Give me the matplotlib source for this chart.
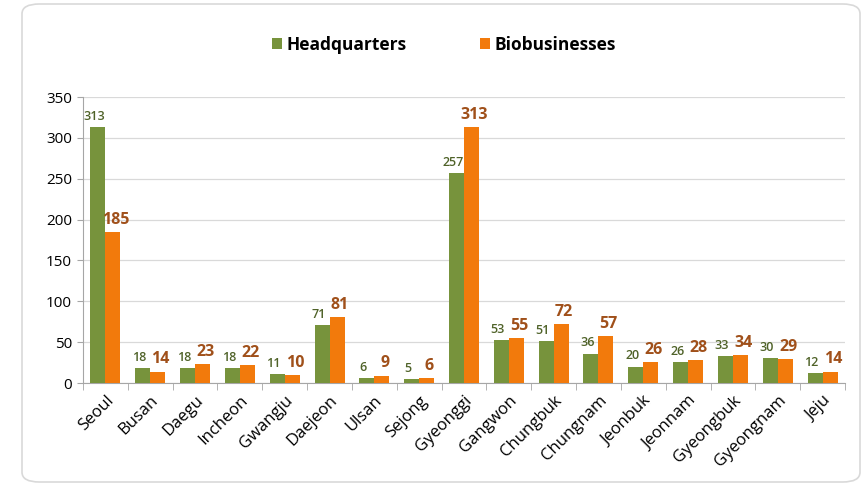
import matplotlib.pyplot as plt
import numpy as np
from matplotlib.patches import FancyBboxPatch

regions = ["Seoul", "Busan", "Daegu", "Incheon", "Gwangju", "Daejeon", "Ulsan",
           "Sejong", "Gyeonggi", "Gangwon", "Chungbuk", "Chungnam", "Jeonbuk",
           "Jeonnam", "Gyeongbuk", "Gyeongnam", "Jeju"]
headquarters = [313, 18, 18, 18, 11, 71, 6, 5, 257, 53, 51, 36, 20, 26, 33, 30, 12]
biobusinesses = [185, 14, 23, 22, 10, 81, 9, 6, 313, 55, 72, 57, 26, 28, 34, 29, 14]

green = "#77933C"
orange = "#F27A0C"
green_txt = "#4F6228"
orange_txt = "#A0501A"

plt.rcParams['font.family'] = ['Open Sans', 'DejaVu Sans']

fig = plt.figure(figsize=(8.67, 4.9), dpi=100)
frame = FancyBboxPatch((22 / 867, 8 / 490), 838 / 867, 478 / 490,
                       boxstyle="round,pad=0,rounding_size=0.02",
                       transform=fig.transFigure, fc="white", ec="#D9D9D9", lw=1.2,
                       zorder=-10)
fig.patches.append(frame)

ax = fig.add_axes([83 / 867, 1 - 383 / 490, (845 - 83) / 867, (383 - 97) / 490])
ax.set_zorder(1)
ax.patch.set_alpha(0)
x = np.arange(len(regions))
w = 0.334
b1 = ax.bar(x - w / 2, headquarters, w, color=green, label="Headquarters", zorder=3)
b2 = ax.bar(x + w / 2, biobusinesses, w, color=orange, label="Biobusinesses", zorder=3)

# labels pushed slightly apart so the pairs don't collide
for xi, v in zip(x, headquarters):
    ax.annotate(str(v), (xi - w / 2, v), xytext=(-2.5, 3), textcoords="offset points",
                ha="center", va="bottom", fontsize=9, fontweight="semibold", color=green_txt)
for xi, v in zip(x, biobusinesses):
    ax.annotate(str(v), (xi + w / 2, v), xytext=(2, 3), textcoords="offset points",
                ha="center", va="bottom", fontsize=11.5, fontweight="bold", color=orange_txt)

ax.set_xlim(-0.5, len(regions) - 0.5)
ax.set_ylim(0, 350)
ax.set_yticks(range(0, 351, 50))
ax.yaxis.grid(True, color="#D9D9D9", lw=0.9, zorder=0)
ax.set_axisbelow(True)
ax.set_xticks(x)
ax.set_xticklabels(regions, rotation=45, ha="right", rotation_mode="anchor", fontsize=12)
ax.set_xticks(np.arange(-0.5, len(regions), 1), minor=True)
ax.tick_params(axis="x", which="major", length=0, pad=7)
ax.tick_params(axis="x", which="minor", length=5, color="#A6A6A6", direction="out")
ax.tick_params(axis="y", length=4, color="#A6A6A6", labelsize=11, pad=4)
for s in ["top", "right"]:
    ax.spines[s].set_visible(False)
for s in ["left", "bottom"]:
    ax.spines[s].set_color("#A6A6A6")

leg = fig.legend(handles=[b1, b2], loc="center", bbox_to_anchor=(0.512, 1 - 45 / 490),
                 ncol=2, frameon=False, prop={"weight": "bold", "size": 12.5},
                 handlelength=0.6, handleheight=0.6, handletextpad=0.25, columnspacing=4.2)

fig.savefig("out.png", dpi=100)
